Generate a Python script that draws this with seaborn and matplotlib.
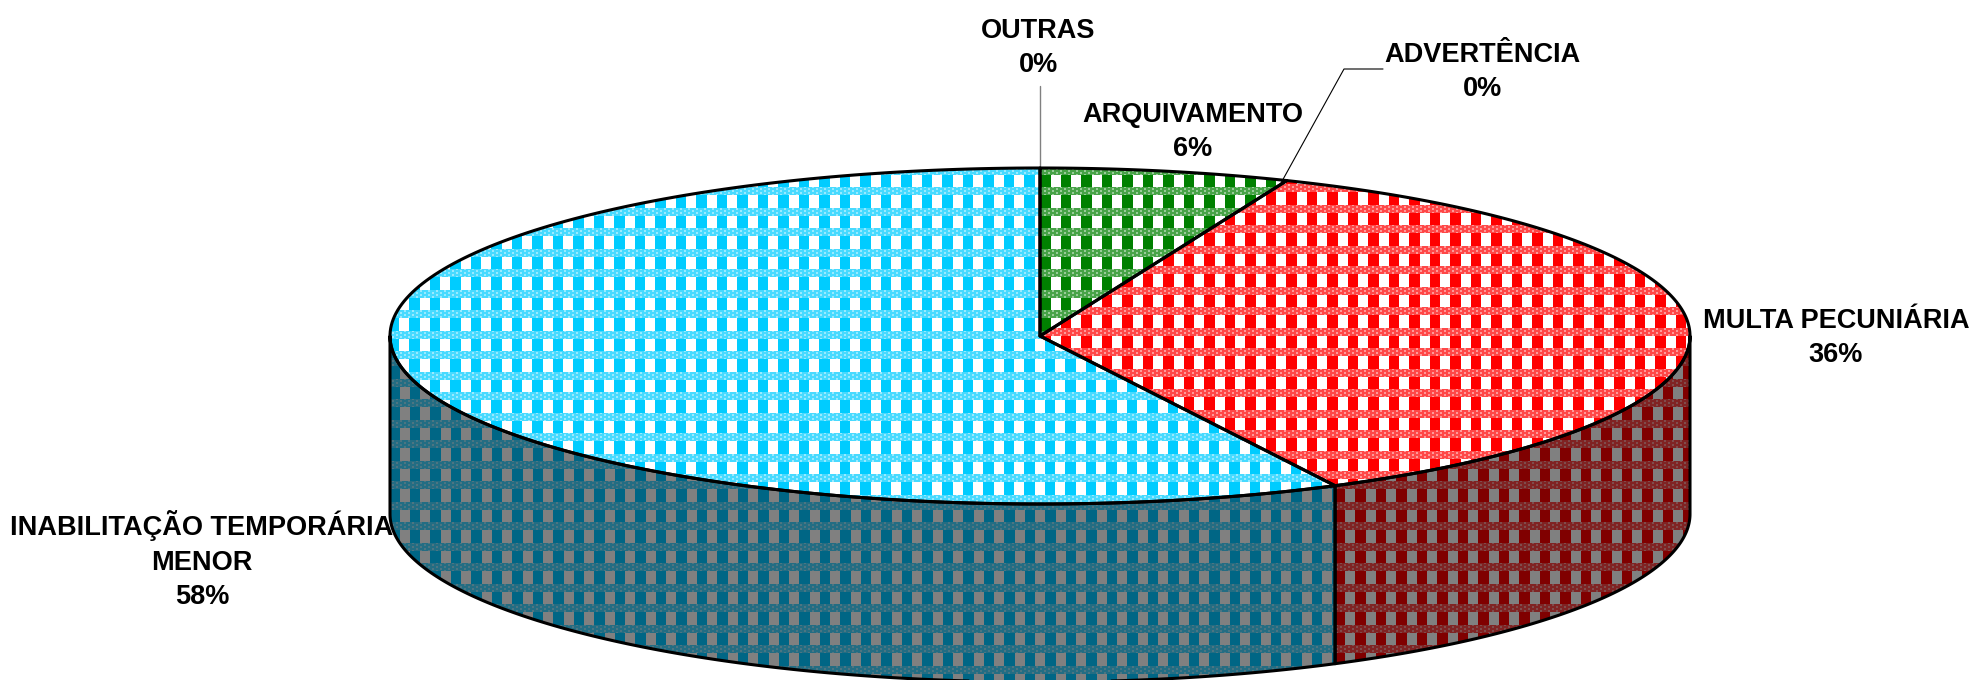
import numpy as np
import seaborn as sns
import matplotlib.pyplot as plt
from matplotlib.patches import Polygon

# Data
categories = ["OUTRAS", "ARQUIVAMENTO", "ADVERTÊNCIA", "MULTA PECUNIÁRIA", "INABILITAÇÃO TEMPORÁRIA\nMENOR"]
values = [0.0, 6.2, 0.0, 36.3, 57.5]
top_colors = ["#7f7f7f", "#008000", "#ffcc00", "#ff0000", "#00ccff"]
side_colors = ["#404040", "#004000", "#806600", "#800000", "#006685"]

# Label centres and disc geometry, in figure pixels
label_xy = [(1038, 48), (1193, 132), (1482, 72), (1836, 338), (202, 560)]
cx, cy, rx, ry, depth = 1040, 336, 650, 168, 178
W, H = 1977, 680

# Pattern phase of each slice (x of a coloured column, y of a band)
top_phase = [(0, 0), (1040, 187), (0, 0), (1081, 225), (1024, 187)]
side_phase = [(0, 0), (0, 0), (0, 0), (1355, 522), (1250, 522)]

sns.set_theme(style="white")
plt.rcParams["font.family"] = ["Liberation Sans", "DejaVu Sans"]

fig, ax = plt.subplots(figsize=(W / 100, H / 100), dpi=100)
fig.subplots_adjust(0, 0, 1, 1)
ax.axis("off")


def arc(a0, a1, dy=0):
    t = np.radians(np.linspace(a0, a1, 200))
    return np.column_stack([cx + rx * np.sin(t), cy + dy - ry * np.cos(t)])


def fabric(fg, bg, phase):
    # plaid fill like the office pattern
    fg = np.array(sns.color_palette([fg])[0])
    bg = np.array(sns.color_palette([bg])[0])
    Y, X = np.mgrid[0:H, 0:W]
    p = 20.5
    img = np.ones((H, W, 3)) * bg
    img[((X - phase[0]) % p) < p / 2] = fg
    band = ((Y - phase[1]) % p) < 8
    img[band] = 0.72 * fg + 0.28 * bg
    dots = band & ((X // 2) % 2 == 0) & ((Y // 2 + X // 4) % 2 == 0)
    img[dots] = 0.4 * fg + 0.6 * bg
    return img


def fill(points, img):
    patch = Polygon(points, closed=True, fc="none", ec="none")
    ax.add_patch(patch)
    im = ax.imshow(img, extent=(0, W, H, 0), aspect="auto", interpolation="nearest", zorder=1)
    im.set_clip_path(patch)
    ax.add_patch(Polygon(points, closed=True, fc="none", ec="black", lw=2.2, zorder=3, joinstyle="round"))


ends = np.cumsum(values) / np.sum(values) * 360
starts = np.r_[0, ends[:-1]]

# Sides first, only the front half of the rim shows
for a0, a1, side, phase in zip(starts, ends, side_colors, side_phase):
    s0, s1 = max(a0, 90), min(a1, 270)
    if s1 > s0:
        pts = np.vstack([arc(s0, s1), arc(s0, s1, depth)[::-1]])
        fill(pts, fabric(side, "#808080", phase))

# Top of the disc
for a0, a1, top, phase in zip(starts, ends, top_colors, top_phase):
    if a1 > a0:
        pts = np.vstack([[(cx, cy)], arc(a0, a1)])
        fill(pts, fabric(top, "#ffffff", phase))

ax.set_xlim(0, W)
ax.set_ylim(H, 0)

# Leader lines for the two empty slices
ax.plot([cx, cx], [86, 168], color="#808080", lw=1, zorder=2)
ax.plot([1281, 1344, 1383], [183, 69, 69], color="black", lw=0.8, zorder=4)

for name, val, (x, y) in zip(categories, values, label_xy):
    ax.text(x, y, f"{name}\n{round(val)}%", ha="center", va="center", fontsize=19.5,
            fontweight="bold", color="black", linespacing=1.44, zorder=5)

plt.savefig("out.png", dpi=100)
